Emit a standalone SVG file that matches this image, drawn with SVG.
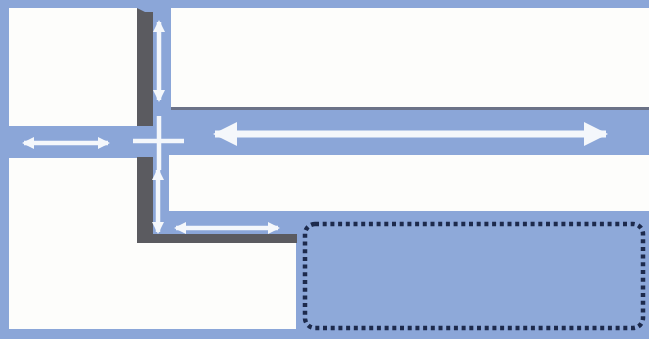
<svg xmlns="http://www.w3.org/2000/svg" width="649" height="339" viewBox="0 0 649 339">
<defs>
<style>
.bg{fill:#8ba6d8}
.panel{fill:#fdfdfb}
.shadow{fill:#5b5b60}
.arr{stroke:#f4f7fb;stroke-width:4.5;fill:none}
.arrL{stroke:#f4f7fb;stroke-width:7;fill:none}
.zone{fill:#8ea9d9;stroke:#1d2a4c;stroke-width:4.5;stroke-dasharray:4 3.7}
</style>
<marker id="hs" viewBox="0 0 12 12" refX="10" refY="6" markerWidth="12" markerHeight="12" markerUnits="userSpaceOnUse" orient="auto-start-reverse">
<path d="M0,0 L12,6 L0,12 Z" fill="#f4f7fb"/>
</marker>
<marker id="hl" viewBox="0 0 24 24" refX="22" refY="12" markerWidth="24" markerHeight="24" markerUnits="userSpaceOnUse" orient="auto-start-reverse">
<path d="M0,0 L24,12 L0,24 Z" fill="#f4f7fb"/>
</marker>
</defs>
<rect class="bg" x="0" y="0" width="649" height="339"/>
<g id="shadows">
<path class="shadow" d="M137,8 L145,12 H153 V126 H137 Z"/>
<rect class="shadow" x="137" y="157" width="16" height="86"/>
<rect class="shadow" x="137" y="234" width="160" height="9"/>
<rect x="171" y="106" width="478" height="4" fill="#6b7287"/>
</g>
<g id="top-left"><rect class="panel" x="9" y="8" width="128" height="118"/></g>
<g id="top-right"><rect class="panel" x="171" y="8" width="478" height="99"/></g>
<g id="middle-right"><rect class="panel" x="169" y="155" width="480" height="56"/></g>
<g id="bottom-left"><path class="panel" d="M9,158 H137 V243 H296 V329 H9 Z"/></g>
<g id="zone"><rect class="zone" x="305" y="224" width="338" height="104" rx="10"/></g>
<g id="connectors">
<line class="arr" x1="24" y1="143" x2="108" y2="143" marker-start="url(#hs)" marker-end="url(#hs)"/>
<line class="arr" x1="133" y1="141" x2="184" y2="141"/>
<line class="arr" x1="159" y1="116" x2="159" y2="170"/>
<line class="arrL" x1="215" y1="134" x2="606" y2="134" marker-start="url(#hl)" marker-end="url(#hl)"/>
<line class="arr" x1="159" y1="22" x2="159" y2="100" marker-start="url(#hs)" marker-end="url(#hs)"/>
<line class="arr" x1="158" y1="170" x2="158" y2="232" marker-start="url(#hs)" marker-end="url(#hs)"/>
<line class="arr" x1="176" y1="228" x2="278" y2="228" marker-start="url(#hs)" marker-end="url(#hs)"/>
</g>
</svg>
